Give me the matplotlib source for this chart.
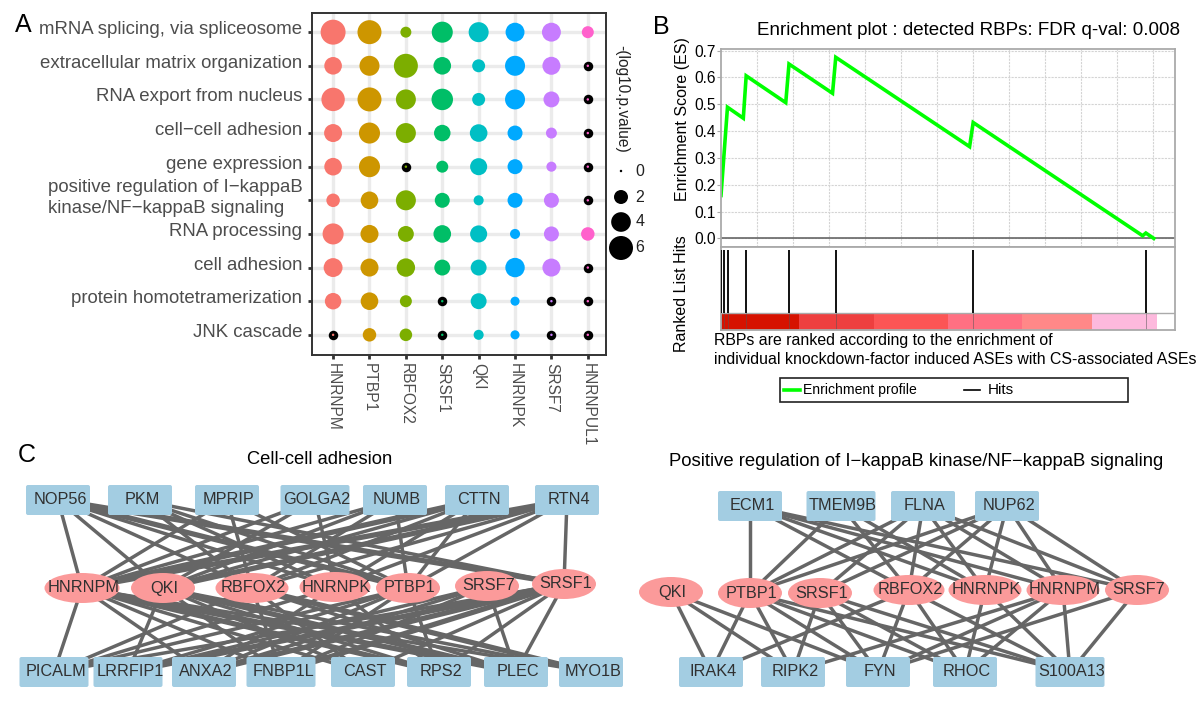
import numpy as np
import matplotlib
matplotlib.use('Agg')
import matplotlib.pyplot as plt
from matplotlib.patches import Ellipse, FancyBboxPatch, Rectangle

plt.rcParams['font.family'] = ['Liberation Sans', 'DejaVu Sans']

W, H = 1200, 701

# panel A
terms = ['mRNA splicing, via spliceosome', 'extracellular matrix organization',
         'RNA export from nucleus', 'cell\u2212cell adhesion', 'gene expression',
         'positive regulation of I\u2212kappaB\nkinase/NF\u2212kappaB signaling',
         'RNA processing', 'cell adhesion', 'protein homotetramerization', 'JNK cascade']
rbps = ['HNRNPM', 'PTBP1', 'RBFOX2', 'SRSF1', 'QKI', 'HNRNPK', 'SRSF7', 'HNRNPUL1']
rbp_colors = ['#f8766d', '#cd9600', '#7cae00', '#00be67', '#00bfc4', '#00a9ff', '#c77cff', '#ff61cc']
logp = [[6.5, 6.0, 1.2, 4.6, 4.15, 3.7, 3.7, 1.45],
        [3.2, 4.15, 6.0, 3.2, 1.7, 4.15, 3.35, 0],
        [5.7, 6.0, 4.15, 4.8, 1.7, 4.15, 2.6, 0],
        [3.35, 4.6, 4.15, 2.8, 3.2, 2.3, 1.2, 0],
        [3.2, 4.6, 0, 1.45, 3.0, 2.3, 1.0, 0],
        [1.85, 3.2, 4.15, 2.3, 1.0, 2.3, 2.3, 0],
        [4.6, 3.35, 2.6, 3.2, 3.0, 1.0, 2.3, 1.85],
        [3.7, 3.35, 3.5, 2.6, 2.6, 3.9, 3.35, 0],
        [2.8, 3.2, 1.45, 0, 2.6, 0.8, 0, 0],
        [0, 1.85, 1.6, 0, 1.0, 0.8, 0, 0]]
size_breaks = [0, 2, 4, 6]

# panel B
es_rank = [0, 0.18, 0.62, 0.70, 1.80, 1.89, 3.10, 3.19, 6.91, 7.01, 11.72, 11.81, 12.03]
es_score = [0.16, 0.489, 0.448, 0.606, 0.506, 0.65, 0.541, 0.675, 0.342, 0.432, 0.01, 0.02, 0.0]
hit_ranks = [0, 0.08, 0.20, 0.69, 1.90, 3.20, 7.01, 11.81]
band_edges = [0, 2.17, 4.24, 6.30, 8.36, 10.30, 12.11]
band_colors = ['#d61200', '#ee3f3f', '#fc5555', '#ff7082', '#ff8888', '#fdb9dd']

# panel C, left network
left_top = {'NOP56': 58, 'PKM': 140, 'MPRIP': 227, 'GOLGA2': 315, 'NUMB': 395, 'CTTN': 477, 'RTN4': 567}
left_mid = {'HNRNPM': (82, 588, 75), 'QKI': (163, 588, 64), 'RBFOX2': (252, 588, 73), 'HNRNPK': (335, 587, 71),
            'PTBP1': (408, 588, 64), 'SRSF7': (487, 586, 64), 'SRSF1': (564, 584, 64)}
left_bottom = {'PICALM': 54, 'LRRFIP1': 128, 'ANXA2': 204, 'FNBP1L': 281, 'CAST': 363, 'RPS2': 439, 'PLEC': 516, 'MYO1B': 591}
left_edges_top = {'NOP56': ['HNRNPM', 'QKI', 'RBFOX2', 'PTBP1', 'SRSF1', 'HNRNPK'],
                  'PKM': ['RBFOX2', 'HNRNPK', 'PTBP1', 'SRSF1'],
                  'MPRIP': ['RBFOX2', 'PTBP1', 'HNRNPM'],
                  'GOLGA2': ['HNRNPM', 'QKI', 'HNRNPK'],
                  'NUMB': ['HNRNPM', 'QKI', 'RBFOX2', 'PTBP1'],
                  'CTTN': ['HNRNPM', 'QKI', 'RBFOX2', 'HNRNPK', 'PTBP1'],
                  'RTN4': ['HNRNPM', 'QKI', 'RBFOX2', 'HNRNPK', 'PTBP1', 'SRSF1']}
left_edges_bottom = {'HNRNPM': ['PICALM', 'ANXA2', 'FNBP1L', 'CAST', 'RPS2', 'PLEC', 'MYO1B'],
                     'QKI': ['LRRFIP1', 'FNBP1L', 'CAST', 'RPS2', 'PLEC', 'MYO1B'],
                     'RBFOX2': ['PICALM', 'FNBP1L', 'CAST', 'PLEC', 'MYO1B'],
                     'HNRNPK': ['PICALM', 'ANXA2', 'RPS2'],
                     'PTBP1': ['PICALM', 'LRRFIP1', 'ANXA2', 'FNBP1L', 'RPS2'],
                     'SRSF7': ['LRRFIP1', 'ANXA2', 'FNBP1L', 'PLEC'],
                     'SRSF1': ['PICALM', 'LRRFIP1', 'ANXA2', 'FNBP1L', 'CAST', 'RPS2', 'PLEC']}
thick_edges = [('NOP56', 'PTBP1'), ('NOP56', 'SRSF1'), ('RTN4', 'HNRNPM'), ('RTN4', 'QKI'), ('CTTN', 'HNRNPM'),
               ('HNRNPM', 'RPS2'), ('HNRNPM', 'PLEC'), ('QKI', 'PLEC'), ('RBFOX2', 'MYO1B'),
               ('SRSF1', 'LRRFIP1'), ('SRSF1', 'ANXA2'), ('SRSF1', 'FNBP1L')]

# panel C, right network
right_top = {'ECM1': 750, 'TMEM9B': 841, 'FLNA': 923, 'NUP62': 1007}
right_mid = {'QKI': (671, 592, 64), 'PTBP1': (750, 593, 64), 'SRSF1': (820, 593, 64), 'RBFOX2': (909, 590, 71),
             'HNRNPK': (985, 590, 73), 'HNRNPM': (1063, 590, 73), 'SRSF7': (1137, 590, 64)}
right_bottom = {'IRAK4': 711, 'RIPK2': 793, 'FYN': 878, 'RHOC': 965, 'S100A13': 1070}
right_edges_top = {'ECM1': ['PTBP1', 'RBFOX2', 'HNRNPK', 'HNRNPM', 'SRSF7'],
                   'TMEM9B': ['PTBP1', 'RBFOX2', 'HNRNPK'],
                   'FLNA': ['PTBP1', 'SRSF1', 'RBFOX2', 'HNRNPK', 'HNRNPM', 'SRSF7'],
                   'NUP62': ['PTBP1', 'SRSF1', 'RBFOX2', 'HNRNPK', 'HNRNPM', 'SRSF7']}
right_edges_bottom = {'QKI': ['IRAK4', 'RIPK2', 'FYN'],
                      'PTBP1': ['IRAK4', 'RIPK2', 'FYN', 'RHOC', 'S100A13'],
                      'SRSF1': ['RIPK2', 'FYN', 'RHOC', 'S100A13'],
                      'RBFOX2': ['IRAK4', 'FYN', 'RHOC', 'S100A13'],
                      'HNRNPK': ['RHOC', 'S100A13'],
                      'HNRNPM': ['RIPK2', 'FYN', 'RHOC', 'S100A13'],
                      'SRSF7': ['FYN', 'S100A13']}


def px_axes(x0, y0, x1, y1):
    return fig.add_axes([x0 / W, 1 - y1 / H, (x1 - x0) / W, (y1 - y0) / H])


def dot_area(v):
    d = np.sqrt(6 + 95 * np.asarray(v, dtype=float))
    return (d * 0.72) ** 2


def edge_width(a, b, thick):
    return 3.8 if (a, b) in thick else 2.5


def network(top, mid, bottom, edges_top, edges_bottom, top_y, box_w, thick=()):
    for name, targets in edges_top.items():
        for t in targets:
            bg.plot([top[name], mid[t][0]], [top_y, mid[t][1]], color='#666666',
                    lw=edge_width(name, t, thick), zorder=1)
    for name, targets in edges_bottom.items():
        for t in targets:
            bg.plot([mid[name][0], bottom[t]], [mid[name][1], 672], color='#666666',
                    lw=edge_width(name, t, thick), zorder=1)
    for row, y in ((top, top_y), (bottom, 672)):
        for name, x in row.items():
            w = box_w + 5 if len(name) >= 6 else box_w
            bg.add_patch(FancyBboxPatch((x - w / 2 + 2, y - 13), w - 4, 26, boxstyle='round,pad=2',
                                        fc='#a3cde2', ec='none', zorder=2))
            bg.text(x + 2, y, name, ha='center', va='center', fontsize=11.7, color='#303030', zorder=4)
    for name, (x, y, w) in mid.items():
        bg.add_patch(Ellipse((x, y), w, 30, fc='#fb9a9a', ec='none', zorder=3))
        bg.text(x + 1.5, y, name, ha='center', va='center', fontsize=11.7, color='#303030', zorder=4)


fig = plt.figure(figsize=(12, 7.01), dpi=100)

# full figure layer in pixel units for the networks and loose text
bg = fig.add_axes([0, 0, 1, 1])
bg.set_xlim(0, W)
bg.set_ylim(H, 0)
bg.axis('off')

bg.text(15, 25, 'A', fontsize=18, ha='left', va='center')
bg.text(653, 27, 'B', fontsize=18, ha='left', va='center')
bg.text(18, 455, 'C', fontsize=18, ha='left', va='center')

# A: dot plot
ax = px_axes(312, 13, 606, 355)
ax.set_xlim(-0.58, 7.5)
ax.set_ylim(9.6, -0.57)
ax.grid(True, color='#ebebeb', lw=2.4)
ax.set_axisbelow(True)
vals = np.array(logp)
cols, rows = np.meshgrid(np.arange(len(rbps)), np.arange(len(terms)))
zero = vals == 0
ax.scatter(cols[zero], rows[zero], s=(9.5 * 0.72) ** 2, color='black', lw=0, zorder=2)
ax.scatter(cols.ravel(), rows.ravel(), s=dot_area(vals.ravel()),
           c=np.array(rbp_colors)[cols.ravel()], lw=0, zorder=3)
ax.set_xticks(range(len(rbps)))
ax.set_xticklabels(rbps, rotation=-90, fontsize=11.2, color='#4d4d4d')
ax.set_yticks(range(len(terms)))
ax.set_yticklabels([])
ax.tick_params(axis='both', length=3, width=2, color='#333333', pad=3)
for i, term in enumerate(terms):
    ax.annotate(term, xy=(0, i), xycoords=ax.get_yaxis_transform(), xytext=(-7, 1.8),
                textcoords='offset points', ha='right', va='center', fontsize=13.4,
                color='#4d4d4d', linespacing=1.35, multialignment='left')
for s in ax.spines.values():
    s.set_color('#333333')
    s.set_linewidth(1.4)

# A: size legend
bg.text(622, 99, '-(log10.p.value)', rotation=-90, ha='center', va='center', fontsize=11.2, color='#222222')
bg.scatter([621] * len(size_breaks), [171, 197, 222, 248], s=dot_area(size_breaks), color='black', lw=0)
for y, b in zip([171, 197, 222, 248], size_breaks):
    bg.text(640, y, str(b), ha='center', va='center', fontsize=11.5, color='#222222')

# B: enrichment profile
grey = '#aaaaaa'
es = px_axes(721, 49, 1175, 247)
es.set_xlim(0, 12.62)
es.set_ylim(-0.032, 0.706)
es.set_xticks(np.arange(1, 13))
es.set_yticks(np.arange(0, 0.71, 0.1))
es.grid(True, color='#d4d4d4', lw=0.8, ls=(0, (2, 1)))
es.axhline(0, color='#666666', lw=1.2)
es.plot(es_rank, es_score, color='#00ff00', lw=2.6, solid_joinstyle='miter')
es.tick_params(axis='x', length=0, labelbottom=False)
es.tick_params(axis='y', length=3, color=grey, labelsize=11.2, pad=1)
es.set_yticklabels(['%.1f' % v for v in np.arange(0, 0.71, 0.1)])
for s in es.spines.values():
    s.set_color(grey)
    s.set_linewidth(1.3)
es.set_title('Enrichment plot : detected RBPs: FDR q-val: 0.008', fontsize=13.5, x=0.546, y=1.0, pad=10)
bg.text(682, 119, 'Enrichment Score (ES)', rotation=90, ha='center', va='center', fontsize=11.5)
bg.text(682, 294, 'Ranked List Hits', rotation=90, ha='center', va='center', fontsize=11.5)

# B: hits and ranked bands
hits = px_axes(721, 247, 1175, 330)
hits.set_xlim(0, 12.62)
hits.set_ylim(0, 83)
hits.set_xticks([])
hits.set_yticks([])
for left, right, c in zip(band_edges[:-1], band_edges[1:], band_colors):
    hits.barh(8.5, right - left, height=17, left=left, color=c, lw=0, zorder=1)
hits.axhline(17, color=grey, lw=1)
hits.vlines(hit_ranks, 17, 80, color='#111111', lw=1.4, zorder=3)
hits.vlines(hit_ranks, 0, 17, color='#555555', lw=0.6, alpha=0.6, zorder=2)
for s in hits.spines.values():
    s.set_color(grey)
    s.set_linewidth(1.3)

bg.text(714, 341, 'RBPs are ranked according to the enrichment of', fontsize=11.4, va='center')
bg.text(714, 360, 'individual knockdown-factor induced ASEs with CS-associated ASEs', fontsize=11.4, va='center')

# B: legend box
bg.add_patch(Rectangle((780, 378), 348, 24, fc='white', ec='#222222', lw=1.2))
bg.plot([784, 800], [390, 390], color='#00ff00', lw=2.6)
bg.text(803, 390, 'Enrichment profile', fontsize=10.1, va='center')
bg.plot([964, 980], [390, 390], color='black', lw=1.2)
bg.text(988, 390, 'Hits', fontsize=11, va='center')

# C: networks
bg.text(320, 459, 'Cell-cell adhesion', fontsize=13.2, ha='center', va='center')
bg.text(916, 462, 'Positive regulation of I\u2212kappaB kinase/NF\u2212kappaB signaling', fontsize=13.3, ha='center', va='center')
network(left_top, left_mid, left_bottom, left_edges_top, left_edges_bottom, 500, 64, thick_edges)
network(right_top, right_mid, right_bottom, right_edges_top, right_edges_bottom, 506, 64)

fig.savefig('out.png', dpi=100)
